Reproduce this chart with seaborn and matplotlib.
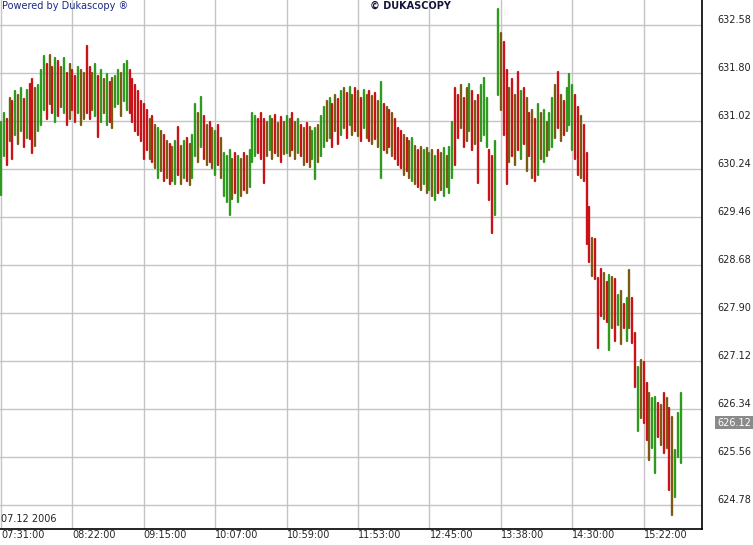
import pandas as pd
import seaborn as sns
import matplotlib.pyplot as plt
import matplotlib.transforms as mtransforms

# bar highs / lows (one bar per slot, left to right)
high = [
    631.00, 631.15, 631.05, 631.40, 631.35, 631.50, 631.45, 631.55, 631.38, 631.52,
    631.62, 631.70, 631.55, 631.60, 631.85, 632.08, 631.95, 632.10, 631.90, 632.05,
    632.00, 631.90, 632.05, 631.80, 631.95, 631.85, 631.75, 631.90, 631.85, 631.80,
    632.24, 631.90, 631.80, 631.95, 631.75, 631.85, 631.70, 631.78, 631.65, 631.72,
    631.75, 631.85, 631.80, 631.95, 632.00, 631.85, 631.70, 631.60, 631.50, 631.35,
    631.30, 631.20, 631.05, 631.10, 630.95, 630.90, 630.85, 630.80, 630.70, 630.65,
    630.60, 630.70, 630.92, 630.62, 630.70, 630.75, 630.65, 630.80, 631.30, 631.15,
    631.41, 631.10, 630.95, 631.00, 630.90, 630.85, 630.95, 630.75, 630.50, 630.45,
    630.55, 630.40, 630.50, 630.45, 630.40, 630.50, 630.45, 630.55, 631.15, 631.10,
    631.05, 631.15, 631.05, 631.00, 631.10, 631.05, 631.12, 630.98, 631.08, 631.00,
    631.10, 631.05, 631.15, 631.00, 631.05, 630.95, 630.90, 630.98, 630.92, 630.85,
    630.90, 630.95, 631.10, 631.25, 631.35, 631.40, 631.30, 631.45, 631.38, 631.50,
    631.55, 631.48, 631.58, 631.45, 631.55, 631.50, 631.40, 631.52, 631.45, 631.50,
    631.42, 631.48, 631.35, 631.65, 631.30, 631.25, 631.20, 631.15, 631.05, 630.90,
    630.85, 630.80, 630.75, 630.70, 630.75, 630.62, 630.55, 630.60, 630.55, 630.58,
    630.50, 630.55, 630.45, 630.55, 630.50, 630.58, 630.45, 630.60, 631.00, 631.55,
    631.45, 631.60, 631.40, 631.55, 631.62, 631.50, 631.35, 631.45, 631.60, 631.72,
    631.40, 630.55, 630.45, 630.70, 632.84, 632.45, 632.30, 631.85, 631.55, 631.70,
    631.45, 631.82, 631.50, 631.55, 631.40, 631.15, 631.20, 631.05, 631.30, 631.15,
    631.20, 631.00, 631.15, 631.40, 631.60, 631.82, 631.45, 631.35, 631.55, 631.78,
    631.60, 631.45, 631.25, 631.10, 630.95, 630.50, 629.62, 629.12, 629.10, 628.47,
    628.62, 628.55, 628.40, 628.52, 628.48, 628.45, 628.20, 628.25, 628.05, 628.15,
    628.60, 628.15, 627.57, 627.02, 627.14, 627.10, 626.76, 626.60, 626.52, 626.54,
    626.44, 626.40, 626.60, 626.52, 626.35, 626.21, 625.67, 626.28, 626.60,
]
low = [
    629.82, 630.45, 630.30, 630.70, 630.40, 630.80, 630.65, 630.85, 630.60, 630.75,
    630.72, 630.50, 630.62, 630.85, 630.95, 631.20, 631.05, 631.30, 631.15, 631.00,
    631.10, 631.25, 631.15, 630.95, 631.05, 631.20, 631.00, 631.15, 630.95, 631.05,
    631.15, 631.05, 631.20, 631.10, 630.76, 631.00, 631.15, 630.95, 631.00, 630.90,
    631.25, 631.30, 631.10, 631.35, 631.20, 631.15, 631.00, 630.85, 630.80, 630.70,
    630.40, 630.55, 630.40, 630.35, 630.25, 630.10, 630.20, 630.05, 630.10, 630.00,
    630.05, 630.00, 630.15, 630.00, 630.10, 630.05, 629.98, 630.10, 630.45, 630.35,
    630.60, 630.40, 630.30, 630.35, 630.25, 630.15, 630.30, 630.10, 629.80, 629.70,
    629.50, 629.75, 629.85, 629.70, 629.80, 629.90, 629.85, 629.95, 630.35, 630.45,
    630.50, 630.40, 630.02, 630.45, 630.55, 630.40, 630.50, 630.45, 630.35, 630.48,
    630.50, 630.45, 630.55, 630.40, 630.50, 630.45, 630.30, 630.35, 630.28, 630.40,
    630.08, 630.35, 630.45, 630.60, 630.70, 630.75, 630.60, 630.85, 630.65, 630.80,
    630.90, 630.75, 630.95, 630.80, 630.85, 630.78, 630.70, 630.90, 630.75, 630.70,
    630.65, 630.72, 630.60, 630.10, 630.55, 630.50, 630.60, 630.45, 630.40, 630.30,
    630.25, 630.15, 630.20, 630.10, 630.05, 630.00, 629.95, 629.90, 630.00, 629.85,
    629.90, 629.80, 629.74, 629.85, 629.90, 629.80, 629.95, 629.85, 630.10, 630.30,
    630.75, 630.90, 630.60, 630.70, 630.85, 630.55, 630.65, 630.02, 630.70, 630.80,
    630.60, 629.74, 629.20, 629.50, 631.45, 631.20, 630.80, 630.00, 630.35, 630.45,
    630.30, 630.55, 630.40, 630.65, 630.20, 630.45, 630.10, 630.05, 630.15, 630.40,
    630.35, 630.45, 630.55, 630.60, 630.75, 630.90, 630.70, 630.80, 630.85, 630.95,
    630.55, 630.40, 630.15, 630.10, 630.05, 629.02, 628.73, 628.50, 628.45, 627.33,
    627.85, 627.80, 627.75, 627.30, 627.65, 627.45, 627.70, 627.40, 627.65, 627.45,
    627.65, 627.42, 626.70, 625.99, 626.20, 626.11, 625.84, 625.51, 625.70, 625.30,
    625.88, 625.75, 625.62, 625.70, 625.02, 624.62, 624.91, 625.56, 625.46,
]
# g = up (green), r = down (red), b = brownish mixed bars
kind = list(
    "ggrbrgbgrg" "rrbgggrbrg" "rbgrbrrgbb" "rrbgrgbgrb" "ggbggrrrrr"
    "rrbrbgbrbr" "bgrbgrbggb" "grbrbgrbgg" "gbrgbrbggg" "rrrbgbrbrb"
    "gbrbgrbrbg" "gbggbgrbrg" "brgbrbrgbr" "brbgrbrbrr" "rbrbgbrbgb"
    "gbgrbgbggr" "rbrbgrbrgg" "grrggbrrbr" "brgrbrbrgb" "gbggbrbrgg"
    "grrbrrrbrr" "rbrgbrgbrg" "brrgbrrbgg" "rbrbrbggg"
)

time_labels = ["07:31:00", "08:22:00", "09:15:00", "10:07:00", "10:59:00",
               "11:53:00", "12:45:00", "13:38:00", "14:30:00", "15:22:00"]
bars_per_label = 25
y_ticks = [624.78, 625.56, 626.34, 627.12, 627.90, 628.68,
           629.46, 630.24, 631.02, 631.80, 632.58]
last_price = 626.12
date_text = "07.12 2006"

colors = {"g": "#2f9a1f", "r": "#c81418", "b": "#7c5a12"}

bars = pd.DataFrame({"bar": range(len(high)), "high": high, "low": low, "kind": kind})
long = bars.melt(id_vars=["bar", "kind"], value_vars=["low", "high"], value_name="price")

sns.set_style("white")
plt.rcParams["font.family"] = ["DejaVu Sans"]

fig = plt.figure(figsize=(7.53, 5.45), dpi=100)
ax = fig.add_axes([0, 16 / 545, 702 / 753, 529 / 545])

for x in range(0, len(time_labels) * bars_per_label, bars_per_label):
    ax.axvline(x, color="#c4c4c4", lw=1, zorder=0)
for y in y_ticks:
    ax.axhline(y, color="#c4c4c4", lw=1, zorder=0)

sns.lineplot(data=long, x="bar", y="price", units="bar", estimator=None,
             hue="kind", palette=colors, legend=False, sort=False,
             linewidth=1.7, ax=ax)

ax.set_xlim(-0.35, 245.4)
ax.set_ylim(624.39, 632.986)
ax.set_xlabel("")
ax.set_ylabel("")

ax.set_xticks(range(0, len(time_labels) * bars_per_label, bars_per_label))
ax.set_xticklabels(time_labels, fontsize=7, ha="left")
ax.yaxis.tick_right()
ax.set_yticks(y_ticks)
ax.set_yticklabels([f"{v:.2f}" for v in y_ticks], fontsize=7, va="bottom", color="#222222")
ax.tick_params(axis="y", length=0, pad=11)
ax.tick_params(axis="x", length=0, pad=1)

for side in ["left", "top"]:
    ax.spines[side].set_visible(False)
for side in ["right", "bottom"]:
    ax.spines[side].set_color("black")
    ax.spines[side].set_linewidth(1.2)

trans = mtransforms.blended_transform_factory(ax.transAxes, ax.transData)
ax.text(717 / 702, last_price, f"{last_price:.2f}", transform=trans, fontsize=7,
        color="white", va="center", ha="left", clip_on=False,
        bbox=dict(boxstyle="square,pad=0.2", fc="#8a8a8a", ec="none"))

fig.text(2 / 753, 1 - 6 / 545, "Powered by Dukascopy \u00ae", fontsize=7,
         color="#1c2a80", va="center", ha="left")
fig.text(410 / 753, 1 - 6 / 545, "\u00a9 DUKASCOPY", fontsize=7, weight="bold",
         color="#14143a", va="center", ha="center")
fig.text(1 / 753, 1 - 519 / 545, date_text, fontsize=7, color="#222222",
         va="center", ha="left")

fig.savefig("out.png", dpi=100, facecolor="white")
